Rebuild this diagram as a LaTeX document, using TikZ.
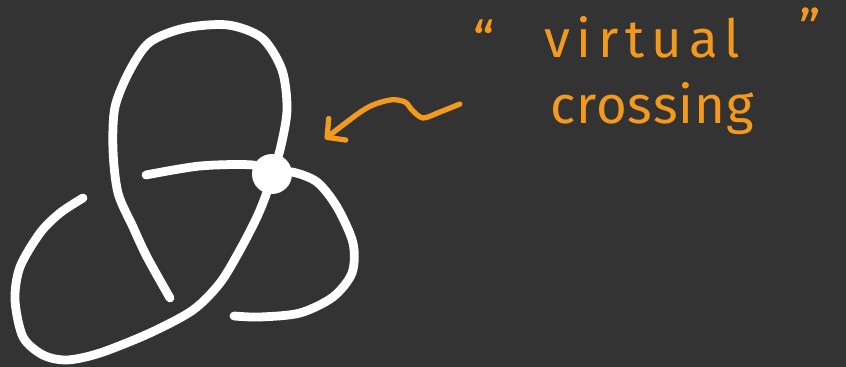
\documentclass[tikz,border=0pt]{standalone}
\usepackage{fontspec}
\usepackage{tikz}
\usetikzlibrary{arrows.meta}
\newfontfamily\handfont{Fira Sans}
\definecolor{boardgray}{HTML}{333333}
\definecolor{chalkorange}{HTML}{F39A1E}
\tikzset{
  strand/.style={draw=white, line width=5pt, line cap=round, line join=round},
  vdot/.style={circle, fill=white, minimum size=0.8cm, inner sep=0pt},
  arr/.style={draw=chalkorange, line width=3pt, line cap=round,
    -{Straight Barb[length=2.6mm,width=5.5mm,round]}},
  note/.style={text=chalkorange, font=\handfont\fontsize{30}{34}\selectfont, inner sep=0pt}
}
\begin{document}
\begin{tikzpicture}[x=0.02cm, y=-0.02cm]
    \fill[boardgray] (0,0) rectangle (846,367);
    \useasboundingbox (0,0) rectangle (846,367);
    \draw[strand] plot[smooth] coordinates {(272,173) (280,150) (287,110) (282,70) (262,38) (228,25) (185,28) (150,42) (130,70) (115,107) (113,150) (118,193) (133,227) (147,257) (170,298)};
    \draw[strand] plot[smooth] coordinates {(146,175) (200,166) (253,165) (272,173) (292,172) (317,182) (337,207) (353,243) (352,273) (333,297) (300,313) (260,317) (234,316)};
    \draw[strand] plot[smooth] coordinates {(272,173) (267,192) (257,217) (240,250) (220,283) (193,310) (150,333) (100,353) (67,360) (43,355) (23,337) (15,300) (20,267) (40,233) (60,213) (83,198)};
    \node[vdot] (vx) at (272,174) {};
    \node[note] (virt) at (642,37) {\addfontfeature{LetterSpace=13}virtual};
    \node[note] (cross) at (652,109) {\addfontfeature{LetterSpace=2}crossing};
    \node[note] (lq) at (484,40) {“};
    \node[note] (rq) at (810,28) {”};
    \draw[arr] plot[smooth] coordinates {(460,104) (440,112) (423,118) (412,110) (405,102) (390,100) (365,109) (325,139)};
\end{tikzpicture}
\end{document}
